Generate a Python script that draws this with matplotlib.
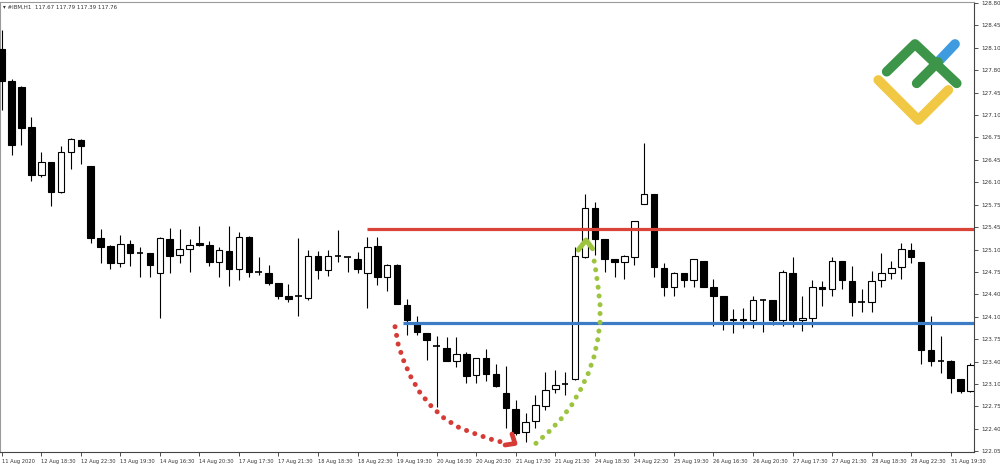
import matplotlib
matplotlib.use("Agg")
import matplotlib.pyplot as plt
from matplotlib import font_manager
import numpy as np

# ---------------- data (IBM H1) ----------------
opens = [128.10, 127.63, 127.53, 126.93, 126.21, 126.40, 125.96, 126.56, 126.74, 126.34,
         125.26, 125.14, 124.88, 125.17, 125.03, 125.03, 124.74, 125.25, 125.00, 125.10,
         125.18, 125.15, 124.90, 125.07, 124.80, 125.28, 124.75, 124.74, 124.58, 124.38,
         124.39, 124.35, 124.99, 124.78, 124.99, 124.97, 124.94, 124.73, 125.14, 124.67,
         124.85, 124.25, 123.97, 123.83, 123.63, 123.60, 123.41, 123.51, 123.20, 123.45,
         123.22, 122.92, 122.68, 122.34, 122.51, 122.73, 122.98, 123.06, 123.14, 124.98,
         125.71, 125.25, 124.94, 124.90, 124.98, 125.77, 125.92, 124.81, 124.52, 124.74,
         124.63, 124.92, 124.52, 124.38, 124.02, 124.04, 124.02, 124.32, 124.32, 124.02,
         124.73, 124.02, 124.05, 124.52, 124.50, 124.91, 124.61, 124.29, 124.29, 124.63,
         124.74, 124.82, 125.08, 124.90, 123.58, 123.41, 123.41, 123.14, 122.95]
highs = [128.40, 127.65, 127.55, 127.08, 126.56, 126.41, 126.64, 126.76, 126.75, 126.34,
         125.39, 125.15, 125.31, 125.23, 125.13, 125.04, 125.27, 125.41, 125.39, 125.25,
         125.44, 125.22, 125.13, 125.44, 125.35, 125.29, 124.98, 124.86, 124.58, 124.57,
         125.26, 125.08, 125.07, 125.08, 125.38, 124.98, 125.05, 125.28, 125.27, 124.87,
         124.87, 124.34, 124.08, 123.83, 123.79, 123.77, 123.77, 123.55, 123.46, 123.59,
         123.36, 123.34, 122.82, 122.62, 122.90, 123.24, 123.27, 123.24, 125.13, 125.93,
         125.81, 125.25, 124.95, 125.00, 125.52, 126.69, 125.93, 124.89, 124.75, 124.74,
         124.95, 124.92, 124.65, 124.38, 124.19, 124.20, 124.38, 124.34, 124.33, 124.78,
         124.97, 124.39, 124.63, 124.61, 124.98, 124.92, 124.84, 124.49, 124.77, 125.04,
         124.92, 125.18, 125.18, 124.90, 124.08, 123.79, 123.42, 123.14, 123.38]
lows = [127.19, 126.51, 126.66, 126.12, 126.18, 125.74, 125.94, 126.30, 126.38, 125.18,
        124.88, 124.79, 124.82, 124.84, 124.67, 124.68, 124.05, 124.73, 124.89, 124.75,
        125.14, 124.84, 124.67, 124.54, 124.63, 124.67, 124.70, 124.55, 124.34, 124.29,
        124.09, 124.33, 124.65, 124.69, 124.90, 124.75, 124.73, 124.20, 124.56, 124.47,
        124.27, 123.80, 123.80, 123.43, 122.72, 123.41, 123.32, 123.07, 123.07, 123.10,
        123.02, 122.40, 122.30, 122.19, 122.40, 122.67, 122.92, 122.90, 123.12, 124.96,
        125.01, 124.75, 124.67, 124.65, 124.85, 125.77, 124.68, 124.38, 124.38, 124.53,
        124.53, 124.52, 123.94, 123.87, 123.83, 123.91, 123.90, 123.84, 123.95, 123.94,
        123.92, 123.86, 123.92, 124.23, 124.39, 124.50, 124.09, 124.14, 124.14, 124.52,
        124.65, 124.65, 124.88, 123.37, 123.33, 123.23, 122.92, 122.93, 122.94]
closes = [127.63, 126.66, 126.91, 126.21, 126.40, 125.96, 126.56, 126.75, 126.64, 125.26,
          125.12, 124.89, 125.17, 125.03, 125.03, 124.86, 125.26, 124.99, 125.10, 125.16,
          125.15, 124.90, 125.08, 124.80, 125.28, 124.75, 124.75, 124.59, 124.39, 124.34,
          124.40, 124.99, 124.78, 124.99, 124.97, 124.95, 124.79, 125.13, 124.68, 124.85,
          124.27, 124.02, 123.84, 123.72, 123.62, 123.41, 123.51, 123.19, 123.45, 123.21,
          123.03, 122.70, 122.32, 122.49, 122.74, 122.97, 123.05, 123.06, 124.99, 125.71,
          125.25, 124.94, 124.90, 124.99, 125.51, 125.93, 124.82, 124.53, 124.74, 124.63,
          124.94, 124.53, 124.39, 124.02, 124.04, 124.02, 124.33, 124.31, 124.02, 124.75,
          124.02, 124.05, 124.52, 124.49, 124.92, 124.63, 124.29, 124.29, 124.62, 124.73,
          124.81, 125.10, 124.97, 123.58, 123.41, 123.41, 123.15, 122.95, 123.35]

time_labels = ["11 Aug 2020", "12 Aug 18:30", "12 Aug 22:30", "13 Aug 19:30", "14 Aug 16:30",
               "14 Aug 20:30", "17 Aug 17:30", "17 Aug 21:30", "18 Aug 18:30", "18 Aug 22:30",
               "19 Aug 19:30", "20 Aug 16:30", "20 Aug 20:30", "21 Aug 17:30", "21 Aug 21:30",
               "24 Aug 18:30", "24 Aug 22:30", "25 Aug 19:30", "26 Aug 16:30", "26 Aug 20:30",
               "27 Aug 17:30", "27 Aug 21:30", "28 Aug 18:30", "28 Aug 22:30", "31 Aug 19:30"]
price_labels = ["128.80", "128.45", "128.10", "127.80", "127.45", "127.10", "126.75",
                "126.45", "126.10", "125.75", "125.45", "125.10", "124.75", "124.40",
                "124.10", "123.75", "123.40", "123.10", "122.75", "122.40", "122.05"]

resistance_level = 125.39
resistance_start = 37
support_level = 123.985
support_start = 40.6

# hand-drawn arrows (candle index, price)
red_arc_x = [39.79, 40.12, 40.70, 41.41, 42.32, 43.50, 44.77, 46.29, 48.05, 49.73, 50.68]
red_arc_y = [123.925, 123.649, 123.398, 123.163, 122.931, 122.720, 122.545, 122.404, 122.304, 122.219, 122.184]
red_head_x = [51.62, 51.93, 50.92]
red_head_y = [122.309, 122.166, 122.143]
green_arc_x = [54.05, 55.36, 56.58, 57.66, 58.57, 59.34, 59.92, 60.29, 60.53, 60.53, 60.35, 60.12, 59.85]
green_arc_y = [122.169, 122.344, 122.535, 122.746, 122.982, 123.223, 123.473, 123.724, 123.985, 124.252, 124.503, 124.753, 124.990]
green_head_x = [58.33, 59.11, 59.77]
green_head_y = [125.08, 125.23, 125.10]

header = "\u25BE #IBM,H1  117.67 117.79 117.39 117.76"

# narrow font if available
avail = {f.name for f in font_manager.fontManager.ttflist}
narrow = "Liberation Sans Narrow" if "Liberation Sans Narrow" in avail else None
if narrow:
    fam = [narrow, "DejaVu Sans"]
    ysz, xsz, hsz = 5.3, 4.6, 5.0
else:
    fam = ["DejaVu Sans"]
    ysz, xsz, hsz = 4.1, 3.7, 4.0

# ---------------- figure ----------------
W, H = 1000, 470
fig = plt.figure(figsize=(W / 100, H / 100), dpi=100)
fig.patch.set_facecolor("white")
ax = fig.add_axes([0.0, 18 / H, 974 / W, 450 / H])

n = len(opens)
x = np.arange(n)
o = np.array(opens); h = np.array(highs); l = np.array(lows); c = np.array(closes)

body_w = 0.66
ax.vlines(x, l, h, color="black", linewidth=0.8, zorder=2)
for i in range(n):
    lo, hi = min(o[i], c[i]), max(o[i], c[i])
    if hi - lo < 0.02:
        ax.hlines(o[i], i - body_w / 2, i + body_w / 2, color="black", linewidth=1.2, zorder=3)
        continue
    face = "black" if c[i] < o[i] else "white"
    ax.bar(i, hi - lo, bottom=lo, width=body_w, facecolor=face,
           edgecolor="black", linewidth=0.8, zorder=3)

ax.set_xlim(-0.172, 98.36)
ax.set_ylim(122.038, 128.815)

# levels
ax.hlines(resistance_level, resistance_start, 99, color="#d94338", linewidth=2.3, zorder=4)
ax.hlines(support_level, support_start, 99, color="#3b7cc4", linewidth=2.3, zorder=4)

# dotted arrows
dot_kw = dict(linewidth=3.6, dash_capstyle="round", solid_capstyle="round", zorder=5)
ax.plot(red_arc_x, red_arc_y, color="#d63b35", linestyle=(0, (0.01, 1.75)), **dot_kw)
ax.plot(red_head_x, red_head_y, color="#d63b35", linewidth=3.4,
        solid_capstyle="round", solid_joinstyle="round", zorder=5)
ax.plot(green_arc_x, green_arc_y, color="#9cc43f", linestyle=(0, (0.01, 1.75)), **dot_kw)
ax.plot(green_head_x, green_head_y, color="#9cc43f", linewidth=3.6,
        solid_capstyle="round", solid_joinstyle="round", zorder=5)

# axes styling
ax.yaxis.tick_right()
ticks_y = [128.80 - k * 0.3375 for k in range(len(price_labels))]
ax.set_yticks(ticks_y)
ax.set_yticklabels(price_labels, fontfamily=fam)
ax.set_xticks(np.arange(0, 4 * len(time_labels), 4))
ax.set_xticklabels(time_labels, ha="left", fontfamily=fam)
ax.tick_params(axis="y", direction="out", length=3, width=0.6, pad=2,
               labelsize=ysz, colors="#333333")
ax.tick_params(axis="x", direction="out", length=3, width=0.6, pad=2,
               labelsize=xsz, colors="#333333")
for s in ["left", "top"]:
    ax.spines[s].set_color("#9a9a9a")
    ax.spines[s].set_linewidth(0.8)
for s in ["right", "bottom"]:
    ax.spines[s].set_color("#444444")
    ax.spines[s].set_linewidth(0.8)

fig.text(3 / W, 1 - 7 / H, header, fontsize=hsz, color="#333333", va="center", ha="left",
         family=fam)

# logo overlay in pixel coordinates
lg = fig.add_axes([0, 0, 1, 1], facecolor="none")
lg.set_xlim(0, W); lg.set_ylim(H, 0); lg.axis("off")
lw_logo = 7.0
lg.plot([878.3, 918.3, 948.3], [80, 120, 90], color="#f0c843", lw=lw_logo,
        solid_capstyle="round", solid_joinstyle="round")
lg.plot([936.7, 955], [63.3, 44], color="#3f9be0", lw=lw_logo, solid_capstyle="round")
lg.plot([886.7, 915, 956.7], [71.7, 44, 83.3], color="#3c9548", lw=lw_logo,
        solid_capstyle="round", solid_joinstyle="round")
lg.plot([916.7, 938], [83.3, 62], color="#3c9548", lw=lw_logo, solid_capstyle="round")

fig.savefig("out.png", dpi=100, facecolor="white")
